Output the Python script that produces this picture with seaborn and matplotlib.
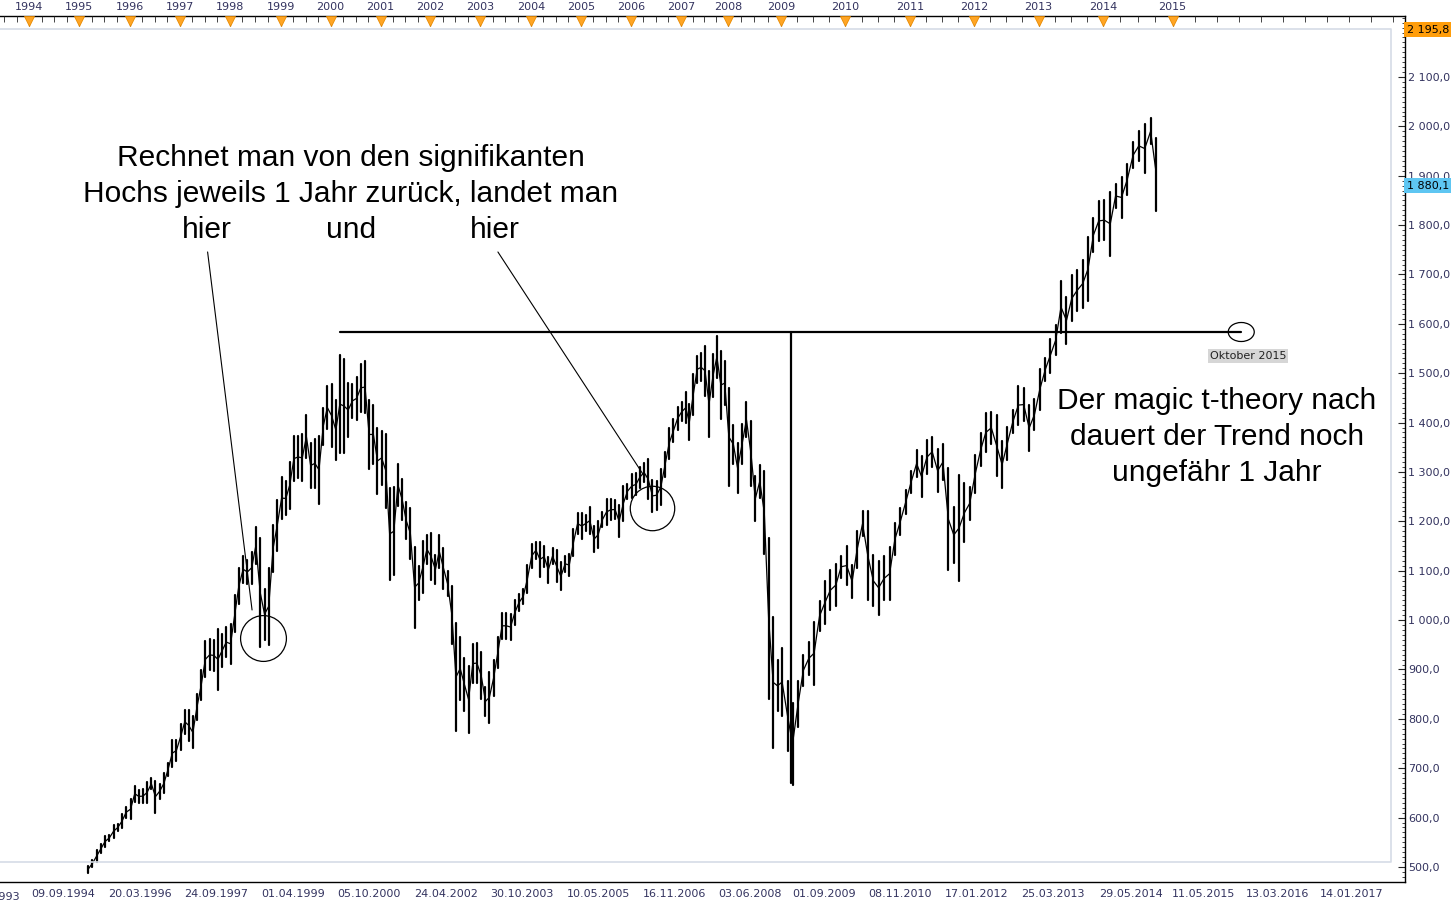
import numpy as np
import pandas as pd
import matplotlib
matplotlib.use("Agg")
import matplotlib.pyplot as plt
import seaborn as sns
from matplotlib.patches import Ellipse
from matplotlib.ticker import FixedLocator, FuncFormatter

# monthly high / low (Mar 1995 .. Oct 2014)
high_1995 = [503, 515, 534, 546, 563, 565, 586, 587, 608, 622]
low_1995 = [488, 500, 510, 528, 540, 553, 559, 573, 578, 600]
high_1996 = [637, 665, 656, 657, 672, 680, 675, 669, 690, 711, 758, 757]
low_1996 = [597, 632, 630, 630, 630, 657, 610, 638, 649, 684, 703, 715]
high_1997 = [790, 818, 818, 805, 850, 899, 957, 961, 960, 983, 972, 986]
low_1997 = [737, 770, 756, 740, 798, 838, 884, 898, 897, 858, 905, 925]
high_1998 = [992, 1051, 1106, 1130, 1122, 1138, 1188, 1167, 1064, 1106, 1193, 1244]
low_1998 = [912, 976, 1032, 1076, 1073, 1074, 1114, 945, 960, 950, 1097, 1140]
high_1999 = [1289, 1281, 1320, 1372, 1373, 1376, 1415, 1358, 1367, 1373, 1430, 1474]
low_1999 = [1205, 1212, 1226, 1282, 1288, 1281, 1328, 1268, 1268, 1236, 1355, 1387]
high_2000 = [1478, 1445, 1536, 1528, 1481, 1478, 1493, 1519, 1525, 1446, 1436, 1390]
low_2000 = [1350, 1325, 1339, 1339, 1370, 1410, 1405, 1422, 1419, 1306, 1316, 1255]
high_2001 = [1383, 1377, 1267, 1269, 1316, 1286, 1239, 1227, 1148, 1110, 1160, 1173]
low_2001 = [1274, 1228, 1082, 1091, 1232, 1203, 1165, 1124, 985, 1040, 1054, 1114]
high_2002 = [1176, 1131, 1173, 1147, 1099, 1070, 994, 966, 924, 907, 952, 954]
low_2002 = [1081, 1074, 1106, 1063, 1048, 952, 775, 838, 815, 772, 872, 872]
high_2003 = [935, 865, 895, 919, 965, 1015, 1015, 1012, 1040, 1053, 1064, 1112]
low_2003 = [840, 806, 792, 847, 903, 962, 962, 960, 990, 1018, 1032, 1055]
high_2004 = [1155, 1159, 1159, 1150, 1128, 1146, 1141, 1117, 1130, 1133, 1185, 1217]
low_2004 = [1105, 1124, 1087, 1107, 1076, 1113, 1078, 1060, 1098, 1090, 1130, 1174]
high_2005 = [1217, 1212, 1229, 1191, 1200, 1219, 1246, 1245, 1243, 1233, 1272, 1276]
low_2005 = [1164, 1180, 1174, 1137, 1146, 1188, 1192, 1202, 1205, 1168, 1201, 1246]
high_2006 = [1295, 1297, 1311, 1318, 1326, 1284, 1282, 1306, 1340, 1389, 1407, 1431]
low_2006 = [1248, 1253, 1268, 1280, 1245, 1219, 1224, 1233, 1290, 1327, 1360, 1385]
high_2007 = [1441, 1461, 1438, 1499, 1535, 1540, 1556, 1504, 1539, 1576, 1545, 1524]
low_2007 = [1403, 1399, 1364, 1416, 1481, 1484, 1454, 1371, 1451, 1490, 1407, 1436]
high_2008 = [1471, 1396, 1359, 1397, 1441, 1404, 1292, 1314, 1303, 1166, 1007, 919]
low_2008 = [1271, 1316, 1257, 1316, 1371, 1272, 1200, 1248, 1133, 840, 741, 815]
high_2009 = [944, 876, 832, 876, 930, 956, 997, 1039, 1080, 1101, 1113, 1130]
low_2009 = [805, 735, 667, 783, 866, 889, 869, 978, 992, 1020, 1029, 1086]
high_2010 = [1150, 1112, 1180, 1220, 1220, 1131, 1120, 1129, 1148, 1196, 1227, 1263]
low_2010 = [1071, 1045, 1105, 1170, 1040, 1028, 1011, 1040, 1040, 1131, 1173, 1214]
high_2011 = [1303, 1345, 1333, 1365, 1371, 1346, 1357, 1308, 1230, 1293, 1277, 1270]
low_2011 = [1257, 1289, 1249, 1295, 1311, 1259, 1283, 1101, 1115, 1080, 1158, 1203]
high_2012 = [1334, 1378, 1420, 1422, 1415, 1363, 1392, 1426, 1475, 1470, 1435, 1448]
low_2012 = [1258, 1312, 1340, 1357, 1292, 1267, 1325, 1378, 1396, 1403, 1343, 1385]
high_2013 = [1509, 1530, 1570, 1598, 1687, 1654, 1698, 1709, 1730, 1776, 1814, 1849]
low_2013 = [1426, 1485, 1501, 1536, 1581, 1560, 1605, 1627, 1633, 1646, 1746, 1768]
high_2014 = [1850, 1867, 1884, 1897, 1924, 1968, 1991, 2005, 2016, 1977]
low_2014 = [1770, 1738, 1834, 1815, 1860, 1915, 1930, 1905, 1964, 1828]

first_month = "1995-03-01"
last_close = 1880.1
max_label = 2195.8
target_level = 1583.5
low_2009_level = 670

year_labels = [str(y) for y in range(1994, 2016)]
date_labels = ["09.09.1994", "20.03.1996", "24.09.1997", "01.04.1999", "05.10.2000",
               "24.04.2002", "30.10.2003", "10.05.2005", "16.11.2006", "03.06.2008",
               "01.09.2009", "08.11.2010", "17.01.2012", "25.03.2013", "29.05.2014",
               "11.05.2015", "13.03.2016", "14.01.2017"]
price_ticks = list(range(500, 2101, 100))

# the chart's time axis is bar-index based: year -> position anchors
scale_years = [1990] + list(range(1994, 2018)) + [2020]
scale_pos = [-170.5, 29.5, 79.5, 130, 180, 230, 281, 331, 381, 430.5, 480.5, 531, 581,
             631, 681, 728, 781, 845.5, 910, 974, 1038.6, 1103, 1172.5, 1260.5, 1348.5, 1612.5]


def fwd(t):
    return np.interp(t, scale_years, scale_pos)


def inv(p):
    return np.interp(p, scale_pos, scale_years)


def dec_year(ts):
    ts = pd.DatetimeIndex(ts)
    return np.asarray(ts.year + (ts.dayofyear - 1) / 365.25, dtype=float)


yrs = range(1995, 2015)
high = sum([globals()[f"high_{y}"] for y in yrs], [])
low = sum([globals()[f"low_{y}"] for y in yrs], [])
n = len(high)
months = pd.date_range(first_month, periods=n, freq="MS") + pd.Timedelta(days=7)
t = dec_year(months)
bars = pd.DataFrame({
    "t": np.repeat(t, 2),
    "price": np.column_stack([low, high]).ravel(),
    "bar": np.repeat(np.arange(n), 2),
})
path = pd.DataFrame({"t": t, "mid": (np.array(high) + np.array(low)) / 2})

sns.set_style("white")
plt.rcParams["font.family"] = ["DejaVu Sans"]
big = dict(family=["Liberation Sans", "DejaVu Sans"], fontsize=21.5, color="black",
           ha="center", va="center")
navy = "#33335f"

W, H = 1454, 905
fig = plt.figure(figsize=(W / 100, H / 100), dpi=100)
rect = [0, (H - 882) / H, 1405 / W, (882 - 16) / H]
ax = fig.add_axes(rect)

sns.lineplot(data=bars, x="t", y="price", units="bar", estimator=None, sort=False,
             color="black", lw=1.6, ax=ax)
sns.lineplot(data=path, x="t", y="mid", color="black", lw=0.9, ax=ax)

ax.set_xscale("function", functions=(fwd, inv))
xmin, xmax = 1993.42, 2017.64
ax.set_xlim(xmin, xmax)
ax.set_ylim(469.6, 2223.5)
ax.set_xlabel("")
ax.set_ylabel("")

# right price axis (ticks point inwards, labels just right of the spine)
ax.yaxis.tick_right()
ax.yaxis.set_major_locator(FixedLocator(price_ticks))
ax.yaxis.set_minor_locator(FixedLocator(np.arange(470, 2221, 10)))
ax.yaxis.set_major_formatter(FuncFormatter(
    lambda v, p: f"{v:,.1f}".replace(",", " ").replace(".", ",")))
ax.tick_params(axis="y", which="major", direction="in", length=5, width=0.8,
               labelsize=8, labelcolor=navy, pad=2.5, left=False, right=True)
ax.tick_params(axis="y", which="minor", direction="in", length=2.5, width=0.6,
               left=False, right=True)

# bottom date axis
date_t = dec_year(pd.to_datetime(date_labels, format="%d.%m.%Y"))
ax.set_xticks(date_t, date_labels)
minor_t = np.concatenate([np.linspace(a, b, 5)[1:-1] for a, b in zip(date_t[:-1], date_t[1:])])
ax.xaxis.set_minor_locator(FixedLocator(minor_t))
ax.tick_params(axis="x", which="major", direction="in", length=7, width=0.8,
               labelsize=8, labelcolor=navy, pad=5)
ax.tick_params(axis="x", which="minor", direction="in", length=4, width=0.6)
ax.text(1993.19, -0.012, "12.03.1993", transform=ax.get_xaxis_transform(), ha="center",
        va="top", fontsize=8, color=navy, clip_on=False)

for side in ["top", "right", "bottom"]:
    ax.spines[side].set_color("black")
    ax.spines[side].set_linewidth(1)
ax.spines["left"].set_visible(False)

# light inner frame
ax.plot([0, 0.99, 0.99, 0], [0.985, 0.985, 0.023, 0.023], transform=ax.transAxes,
        color="#d5dce6", lw=1.2, clip_on=False)

# top year axis
ax_top = fig.add_axes(rect, frameon=False)
ax_top.set_xscale("function", functions=(fwd, inv))
ax_top.set_xlim(xmin, xmax)
ax_top.set_ylim(0, 1)
ax_top.set_yticks([])
year_t = [int(y) for y in year_labels]
ax_top.set_xticks(year_t, year_labels)
ax_top.xaxis.set_minor_locator(FixedLocator(np.arange(1993.5, 2017.6, 0.25)))
ax_top.tick_params(axis="x", which="major", top=True, labeltop=True, bottom=False,
                   labelbottom=False, direction="in", length=7, width=0.8, labelsize=8,
                   labelcolor=navy, pad=3)
ax_top.tick_params(axis="x", which="minor", top=True, bottom=False, direction="in",
                   length=4, width=0.6)
ax_top.plot(year_t, [0.9942] * len(year_t), ls="none", marker="v", ms=7,
            mfc="#ffa524", mec="#e98a00", mew=0.6, clip_on=False)

# price boxes on the right
for val, col in [(max_label, "#ff9d0a"), (last_close, "#5ec6f2")]:
    txt = f"{val:,.1f}".replace(",", " ").replace(".", ",")
    ax.annotate(txt, xy=(1, val), xycoords=ax.get_yaxis_transform(), xytext=(1.2, 0),
                textcoords="offset points", ha="left", va="center", fontsize=8,
                color="black", zorder=10, annotation_clip=False,
                bbox=dict(boxstyle="square,pad=0.2", fc=col, ec="none"))

# horizontal level and vertical drop
ax.plot([2000.18, 2015.78], [target_level, target_level], color="black", lw=1.6)
ax.plot([2009.155, 2009.155], [target_level, low_2009_level], color="black", lw=1.6)
ax.add_patch(Ellipse((2015.78, target_level), 26 / 88, 38.5, fill=False,
                     ec="black", lw=0.9))
ax.text(2015.86, 1535, "Oktober 2015", ha="center", va="center", fontsize=8,
        color="#222222", bbox=dict(boxstyle="square,pad=0.15", fc="#d6d6d6", ec="none"))

# left annotation
ax.text(2000.4, 1936, "Rechnet man von den signifikanten", **big)
ax.text(2000.4, 1863, "Hochs jeweils 1 Jahr zurück, landet man", **big)
ax.text(1997.54, 1790, "hier", **big)
ax.text(2000.4, 1790, "und", **big)
ax.text(2003.29, 1790, "hier", **big)
ax.plot([1997.56, 1998.44], [1745.6, 1020.5], color="black", lw=0.8)
ax.plot([2003.35, 2006.28], [1745.6, 1289.9], color="black", lw=0.8)
ax.plot([1998.65], [963.8], ls="none", marker="o", ms=33, mfc="none", mec="black", mew=0.9)
ax.plot([2006.42], [1227], ls="none", marker="o", ms=32, mfc="none", mec="black", mew=0.9)

# right annotation
ax.text(2015.5, 1443.8, "Der magic t-theory nach", **big)
ax.text(2015.5, 1370.9, "dauert der Trend noch", **big)
ax.text(2015.5, 1298, "ungefähr 1 Jahr", **big)

fig.savefig("out.png", dpi=100)
